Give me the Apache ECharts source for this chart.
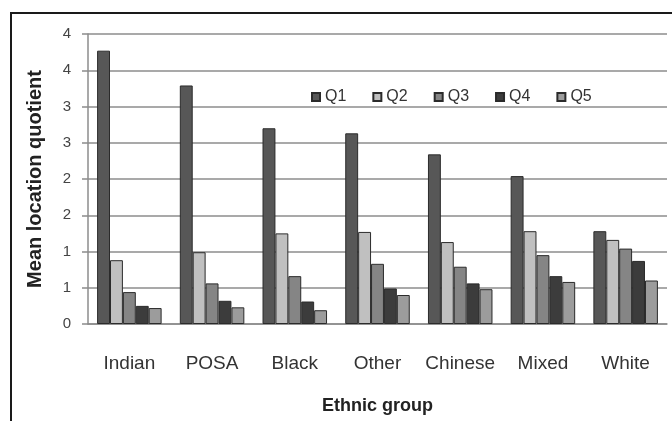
<!DOCTYPE html>
<html>
<head>
<meta charset="utf-8">
<script src="https://cdn.jsdelivr.net/npm/echarts@6/dist/echarts.min.js"></script>
<style>
  html, body { margin: 0; padding: 0; background: #fff; }
  #chart { width: 672px; height: 421px; }
</style>
</head>
<body>
<div id="chart"></div>
<script>
// Ethnic groups along the x axis
const categories = ['Indian', 'POSA', 'Black', 'Other', 'Chinese', 'Mixed', 'White'];

// Mean location quotient per quintile
const q1 = [3.77, 3.29, 2.70, 2.63, 2.34, 2.04, 1.28];
const q2 = [0.88, 0.99, 1.25, 1.27, 1.13, 1.28, 1.16];
const q3 = [0.44, 0.56, 0.66, 0.83, 0.79, 0.95, 1.04];
const q4 = [0.25, 0.32, 0.31, 0.49, 0.56, 0.66, 0.87];
const q5 = [0.22, 0.23, 0.19, 0.40, 0.48, 0.58, 0.60];

const seriesNames = ['Q1', 'Q2', 'Q3', 'Q4', 'Q5'];
const seriesData = [q1, q2, q3, q4, q5];
const seriesColors = ['#575757', '#c0c0c0', '#858585', '#3c3c3c', '#9c9c9c'];

// Tick labels on the value axis (one per 0.5 step, shown rounded)
const yTickLabels = ['0', '1', '1', '2', '2', '3', '3', '4', '4'];
const yStep = 0.5;

const sans = '"Liberation Sans", Arial, sans-serif';

const chart = echarts.init(document.getElementById('chart'), null, { renderer: 'canvas' });

chart.setOption({
  animation: false,
  backgroundColor: '#ffffff',
  graphic: [{
    type: 'rect',
    silent: true,
    z: 100,
    shape: { x: 11, y: 13, width: 720, height: 520 },
    style: { fill: 'none', stroke: '#1a1a1a', lineWidth: 2 }
  }],
  legend: {
    data: seriesNames,
    left: 306,
    top: 84,
    icon: 'rect',
    itemWidth: 8,
    itemHeight: 8,
    itemGap: 26,
    textStyle: { fontFamily: sans, fontSize: 16, color: '#333' }
  },
  grid: { left: 88, right: 5, top: 34, bottom: 97, containLabel: false },
  xAxis: {
    type: 'category',
    data: categories,
    name: 'Ethnic group',
    nameLocation: 'middle',
    nameGap: 73,
    nameTextStyle: { fontFamily: sans, fontSize: 18, fontWeight: 'bold', color: '#222' },
    axisLine: { lineStyle: { color: '#8c8c8c', width: 1.5 } },
    axisTick: { show: false },
    axisLabel: { fontFamily: sans, fontSize: 19, color: '#333', margin: 30, interval: 0 }
  },
  yAxis: {
    type: 'value',
    min: 0,
    max: 4,
    interval: yStep,
    name: 'Mean location quotient',
    nameLocation: 'middle',
    nameGap: 43,
    nameTextStyle: { fontFamily: sans, fontSize: 20, fontWeight: 'bold', color: '#222' },
    axisLine: { show: true, lineStyle: { color: '#8c8c8c', width: 1.5 } },
    axisTick: { show: true, inside: false, length: 6, lineStyle: { color: '#8c8c8c', width: 1.5 } },
    axisLabel: {
      fontFamily: sans, fontSize: 15, color: '#444', margin: 17,
      formatter: v => yTickLabels[Math.round(v / yStep)]
    },
    splitLine: { lineStyle: { color: '#8c8c8c', width: 1.5 } }
  },
  series: seriesNames.map((name, i) => ({
    name,
    type: 'bar',
    data: seriesData[i],
    barGap: '0%',
    barCategoryGap: '22%',
    itemStyle: { color: seriesColors[i], borderColor: '#2b2b2b', borderWidth: 1 }
  }))
});
</script>
</body>
</html>
